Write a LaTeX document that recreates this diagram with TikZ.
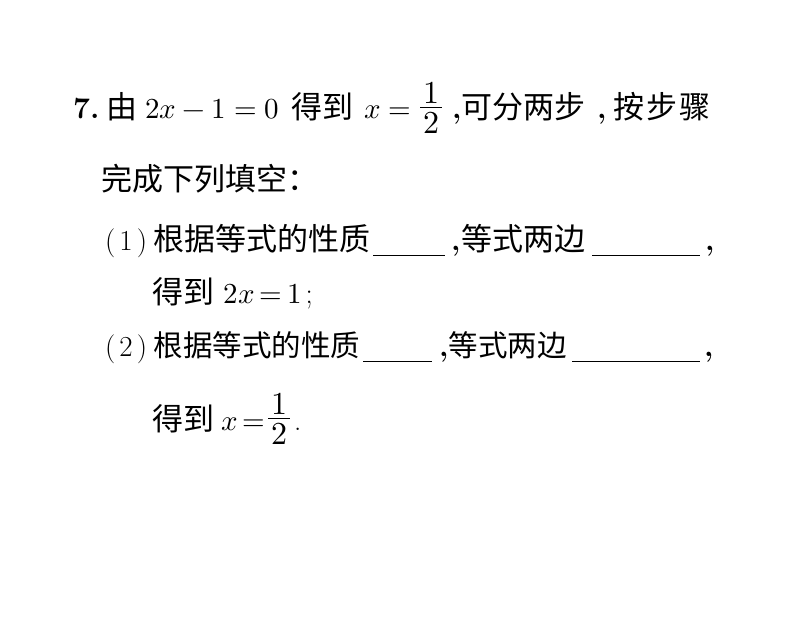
\documentclass[tikz,border=0pt]{standalone}
\usepackage{fontspec}
\usepackage{unicode-math}
\setmathfont{Latin Modern Math}
\newfontfamily\cjk{Noto Sans CJK SC}
\newcommand\halfof[2]{\raisebox{4pt}{$\vcenter{\hbox to 22pt{\hss\fontsize{32}{38}\selectfont$#1$\hss}\kern4pt\hrule height 0.8pt\kern4pt\hbox to 22pt{\hss\fontsize{32}{38}\selectfont$#2$\hss}}$}}
\tikzset{
    zh/.style = {anchor=base west, inner sep=0pt, font=\cjk\fontsize{31}{36}\selectfont},
    zhs/.style = {anchor=base west, inner sep=0pt, font=\cjk\fontsize{29.5}{35}\selectfont},
    mth/.style = {anchor=base west, inner sep=0pt, font=\fontsize{29}{35}\selectfont},
    num/.style = {anchor=base west, inner sep=0pt, font=\bfseries\fontsize{30}{36}\selectfont},
    comma/.style = {anchor=base west, inner sep=0pt, font=\bfseries\fontsize{30}{36}\selectfont},
    blank/.style = {line width=0.8pt, black},
}
\begin{document}
\begin{tikzpicture}[x=1pt,y=-1pt]
\useasboundingbox (0,0) rectangle (794,644);
% line 1
\node[num] (q7) at (73,119) {7.};
\node[zh] (you) at (106.5,119) {由};
\node[mth] (eqa) at (145,119) {$2x-1=0$};
\node[zh] (dedao) at (291.5,119) {得到};
\node[mth] (eqb) at (364,119) {$x=$\kern9pt\halfof{1}{2}};
\node[comma] (ca) at (452,119) {,};
\node[zh] (liangbu) at (461.5,119) {可分两步};
\node[comma] (cb) at (597,119) {,};
\node[zh] (anbu) at (613.5,119) {按\kern2pt 步\kern2pt 骤};
% line 2
\node[zh] (wancheng) at (101.5,191) {完成下列填空：};
% line 3
\node[mth] (p1) at (105,250) {(\kern4pt 1\kern4pt)};
\node[zh] (xz1) at (153.5,250) {根据等式的性质};
\coordinate (b1a) at (373,255);
\coordinate (b1b) at (445,255);
\node[comma] (c1) at (451,250) {,};
\node[zh] (lb1) at (461.5,250) {等式两边};
\coordinate (b1c) at (592,255);
\coordinate (b1d) at (700,255);
\node[comma] (c2) at (705,250) {,};
% line 4
\node[zh] (dd1) at (152,303) {得到};
\node[mth] (eqc) at (223.5,303) {$2x\,{=}\,1$\kern4pt;};
% line 5
\node[mth] (p2) at (105,356) {(\kern4pt 2\kern4pt)};
\node[zhs] (xz2) at (153.5,356) {根据等式的性质};
\coordinate (b2a) at (363,361);
\coordinate (b2b) at (432,361);
\node[comma] (c3) at (439,356) {,};
\node[zhs] (lb2) at (448.5,356) {等式两边};
\coordinate (b2c) at (572,361);
\coordinate (b2d) at (700,361);
\node[comma] (c4) at (704,356) {,};
% line 6
\node[zh] (dd2) at (152,430) {得到};
\node[mth] (eqd) at (221,430) {$x\,{=}$\kern3pt\halfof{1}{2}\kern4pt.};
%
\draw[blank] (b1a) -- (b1b);
\draw[blank] (b1c) -- (b1d);
\draw[blank] (b2a) -- (b2b);
\draw[blank] (b2c) -- (b2d);
\end{tikzpicture}
\end{document}
